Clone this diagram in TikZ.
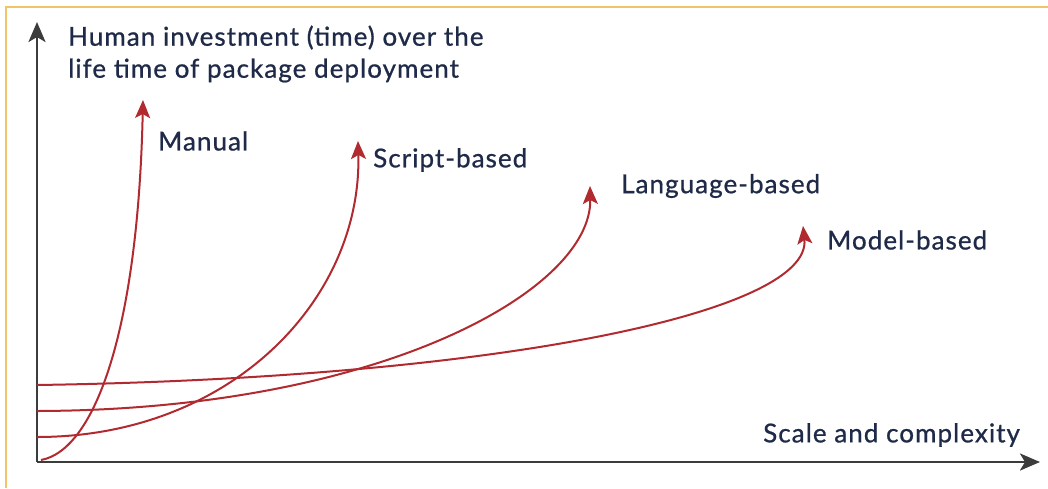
\documentclass[tikz,border=0pt]{standalone}
\usepackage{fontspec}
\setmainfont{Lato}[LetterSpace=4, FakeBold=0.8]
\usetikzlibrary{arrows.meta}
\definecolor{frameorange}{HTML}{F0C468}
\definecolor{axisgray}{HTML}{3C3C3C}
\definecolor{curvered}{HTML}{B12A30}
\definecolor{labelnavy}{HTML}{1E2A48}
\tikzset{
  axis/.style={draw=axisgray, line width=2.8pt, -{Stealth[length=20pt,width=17pt,inset=5pt]}},
  growth/.style={draw=curvered, line width=2pt, -{Stealth[length=18pt,width=15pt,inset=4pt]}},
  lbl/.style={text=labelnavy, font=\fontsize{26}{32}\selectfont, inner sep=0pt, anchor=west, align=left},
}
\begin{document}
\begin{tikzpicture}[x=1pt,y=-1pt]
\useasboundingbox (0,0) rectangle (1048,488);
% frame edges
\draw[frameorange, line width=2.5pt] (6,488) -- (6,7) -- (1048,7);

% axes
\coordinate (origin) at (37,462);
\coordinate (ytip) at (37,22);
\coordinate (xtip) at (1040,462);
\draw[axis] (origin) -- (ytip);
\draw[axis] (origin) -- (xtip);

% axis labels
\node[lbl] (ylabel) at (68,54) {Human investment (time) over the\\life time of package deployment};
\node[lbl] (xlabel) at (763,435) {Scale and complexity};

% curve end points
\coordinate (manualstart) at (41,460);
\coordinate (manualend) at (143,100);
\coordinate (scriptstart) at (37,437);
\coordinate (scriptend) at (358,141);
\coordinate (langstart) at (37,411);
\coordinate (langend) at (590,186);
\coordinate (modelstart) at (37,385);
\coordinate (modelend) at (803,226);

% growth curves
\draw[growth] (manualstart) .. controls (95,450) and (138,330) .. (manualend);
\draw[growth] (scriptstart) .. controls (230,437) and (362,300) .. (scriptend);
\draw[growth] (langstart) .. controls (380,410) and (592,290) .. (langend);
\draw[growth] (modelstart) .. controls (500,378) and (812,312) .. (modelend);

% curve labels
\node[lbl] (manual) at (158,141) {Manual};
\node[lbl] (script) at (373,160) {Script-based};
\node[lbl] (language) at (621,186) {Language-based};
\node[lbl] (model) at (827,240) {Model-based};
\end{tikzpicture}
\end{document}
